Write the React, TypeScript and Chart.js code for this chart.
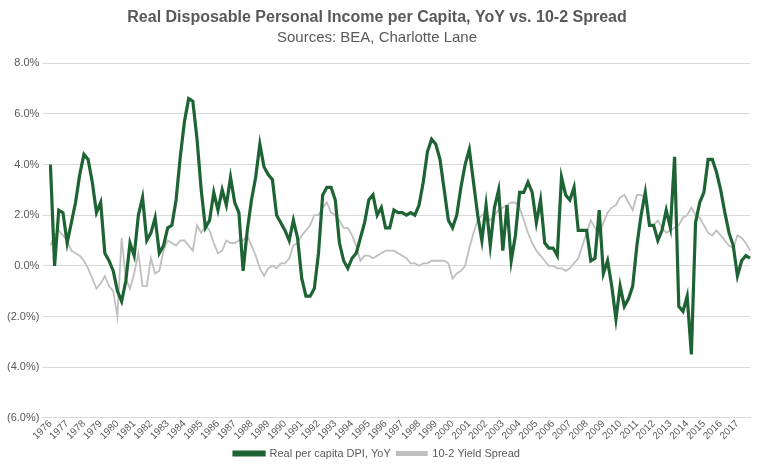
import React, { useEffect, useRef } from "react";
import { Chart, registerables } from "chart.js";
Chart.register(...registerables);

const years: number[] = Array.from({ length: 42 }, (_, i) => 1976 + i);
const quarters: string[] = years.flatMap((y) => [`${y}`, `${y} Q2`, `${y} Q3`, `${y} Q4`]);

const dpiYoY: number[] = [
  4.0, 0.0, 2.2, 2.1, 0.9, 1.7, 2.5, 3.6, 4.4, 4.2, 3.3, 2.1, 2.5, 0.5, 0.2, -0.2,
  -1.0, -1.4, -0.6, 0.9, 0.4, 2.0, 2.7, 1.0, 1.3, 1.9, 0.5, 0.8, 1.5, 1.6, 2.6, 4.3,
  5.7, 6.6, 6.5, 5.0, 3.0, 1.5, 1.8, 2.9, 2.2, 3.0, 2.4, 3.5, 2.5, 2.1, -0.2, 1.4,
  2.6, 3.5, 4.8, 3.9, 3.6, 3.4, 2.0, 1.7, 1.4, 1.0, 1.8, 1.1, -0.5, -1.2, -1.2, -0.9,
  0.5, 2.8, 3.1, 3.1, 2.6, 0.9, 0.2, -0.1, 0.3, 0.5, 1.1, 1.7, 2.6, 2.8, 2.0, 2.3,
  1.5, 1.5, 2.2, 2.1, 2.1, 2.0, 2.1, 2.0, 2.4, 3.3, 4.5, 5.0, 4.8, 4.2, 3.0, 1.8,
  1.5, 2.0, 3.1, 4.0, 4.6, 3.3, 2.0, 1.0, 2.4, 0.8, 2.3, 3.0, 0.6, 2.4, 0.2, 1.2,
  2.9, 2.9, 3.3, 2.9, 1.7, 2.6, 0.9, 0.7, 0.7, 0.4, 3.5, 2.8, 2.6, 3.1, 1.4, 1.4,
  1.4, 0.2, 0.3, 2.2, -0.3, 0.2, -0.8, -2.1, -0.8, -1.6, -1.3, -0.8, 0.8, 2.0, 2.9, 1.6,
  1.6, 1.0, 1.4, 2.2, 1.5, 4.3, -1.6, -1.8, -1.2, -3.5, 1.7, 2.5, 2.9, 4.2, 4.2, 3.7,
  3.0, 2.1, 1.3, 0.8, -0.4, 0.2, 0.4, 0.3,
];

const spread: number[] = [
  0.8, 1.2, 1.4, 1.2, 1.0, 0.6, 0.5, 0.4, 0.2, -0.1, -0.5, -0.9, -0.7, -0.4, -0.8, -1.0,
  -2.0, 1.1, -0.5, -0.9, -0.3, 0.5, -0.8, -0.8, 0.3, -0.3, -0.2, 0.6, 1.0, 0.9, 0.8, 1.0,
  1.0, 0.8, 0.6, 1.6, 1.3, 1.6, 1.4, 0.9, 0.5, 0.6, 1.0, 0.9, 0.9, 1.0, 1.0, 1.2,
  0.8, 0.4, -0.1, -0.4, -0.1, 0.0, -0.1, 0.1, 0.1, 0.3, 0.8, 0.9, 1.2, 1.4, 1.6, 2.0,
  2.0, 2.3, 2.5, 2.1, 2.0, 1.8, 1.5, 1.5, 1.2, 0.8, 0.2, 0.4, 0.4, 0.3, 0.4, 0.5,
  0.6, 0.6, 0.6, 0.5, 0.4, 0.3, 0.1, 0.1, 0.0, 0.1, 0.1, 0.2, 0.2, 0.2, 0.2, 0.1,
  -0.5, -0.3, -0.2, 0.0, 0.7, 1.3, 1.8, 2.0, 2.0, 1.8, 2.0, 2.2, 2.3, 2.4, 2.5, 2.5,
  2.3, 1.8, 1.3, 0.9, 0.6, 0.4, 0.2, 0.0, 0.0, -0.1, -0.1, -0.2, -0.1, 0.1, 0.3, 0.8,
  1.3, 1.8, 1.5, 1.2, 1.7, 2.1, 2.3, 2.4, 2.7, 2.8, 2.5, 2.2, 2.8, 2.8, 2.7, 1.6,
  1.6, 1.8, 1.5, 1.3, 1.4, 1.5, 1.6, 1.9, 2.0, 2.3, 2.0, 1.9, 1.6, 1.3, 1.2, 1.4,
  1.2, 1.0, 0.8, 0.7, 1.2, 1.1, 0.9, 0.6,
];

const fmt = (v: number) => (v < 0 ? `(${Math.abs(v).toFixed(1)}%)` : `${v.toFixed(1)}%`);

export default function App() {
  const ref = useRef<HTMLCanvasElement>(null);
  useEffect(() => {
    const chart = new Chart(ref.current!, {
      type: "line",
      data: {
        labels: quarters,
        datasets: [
          { label: "Real per capita DPI, YoY", data: dpiYoY, borderColor: "#1e6334", backgroundColor: "#1e6334", borderWidth: 3.2, pointRadius: 0, tension: 0 },
          { label: "10-2 Yield Spread", data: spread, borderColor: "#bfbfbf", backgroundColor: "#bfbfbf", borderWidth: 1.8, pointRadius: 0, tension: 0 },
        ],
      },
      options: {
        animation: false,
        responsive: false,
        layout: { padding: { left: 4, right: 18, top: 0, bottom: 0 } },
        plugins: {
          title: {
            display: true,
            text: ["Real Disposable Personal Income per Capita, YoY vs. 10-2 Spread"],
            color: "#595959",
            font: { family: "Liberation Sans", size: 16, weight: "bold" },
            padding: { top: 8, bottom: 0 },
          },
          subtitle: {
            display: true,
            text: "Sources: BEA, Charlotte Lane",
            color: "#595959",
            font: { family: "Liberation Sans", size: 15 },
            padding: { top: 2, bottom: 16 },
          },
          legend: {
            position: "bottom",
            labels: { boxWidth: 30, boxHeight: 3, color: "#595959", font: { family: "Liberation Sans", size: 11 }, padding: 6 },
          },
          tooltip: { enabled: false },
        },
        scales: {
          x: {
            grid: { display: false, drawTicks: false },
            border: { color: "#d9d9d9" },
            ticks: {
              autoSkip: false,
              maxRotation: 45,
              minRotation: 45,
              padding: 0,
              color: "#595959",
              font: { family: "Liberation Sans", size: 10 },
              callback: (_v: any, i: number) => (i % 4 === 0 ? quarters[i] : null),
            },
          },
          y: {
            min: -6,
            max: 8,
            grid: { color: "#d9d9d9" },
            border: { display: false },
            ticks: { stepSize: 2, color: "#595959", font: { family: "Liberation Sans", size: 11 }, callback: (v: any) => fmt(Number(v)) },
          },
        },
      },
    });
    return () => chart.destroy();
  }, []);
  return (
    <div style={{ position: "absolute", left: 0, top: 0, width: 768, height: 469, background: "#fff" }}>
      <canvas ref={ref} width={768} height={469} />
    </div>
  );
}
